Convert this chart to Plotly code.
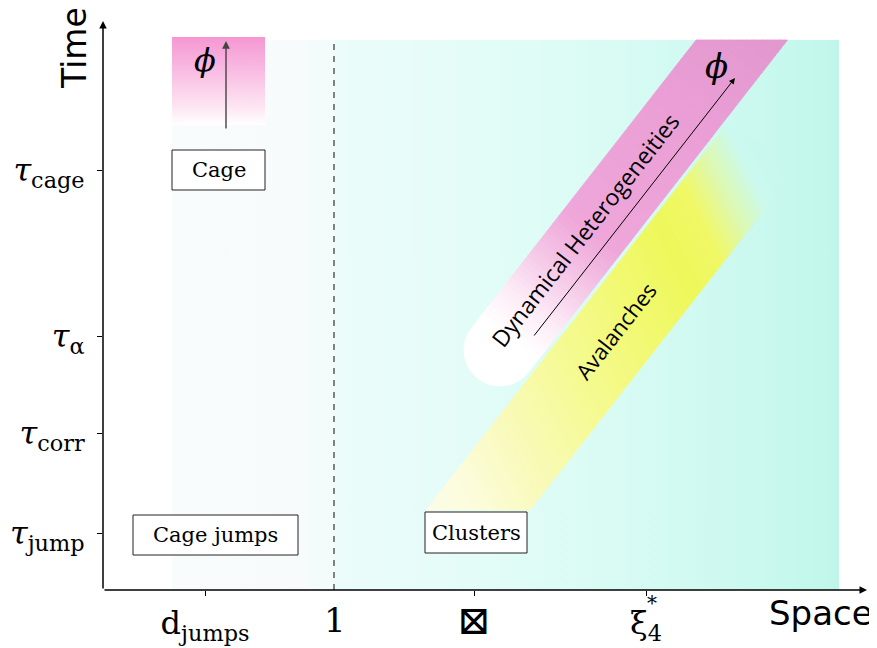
import numpy as np
import plotly.graph_objects as go

# ---------------- data (axis units: 1 unit = 1 px, origin at axes corner) ----------------
space_tick_vals = [102, 371, 543]
space_tick_text = ["d<sub>jumps</sub>", "<span style='font-size:40px'>⊠</span>", "ξ<sub>4</sub>"]
unit_length_x = 231
unit_label = "1"

time_tick_vals = [57, 157, 254, 420]
time_tick_text = ["<i>τ</i><sub>jump</sub>", "<i>τ</i><sub>corr</sub>",
                  "<i>τ</i><sub>α</sub>", "<i>τ</i><sub>cage</sub>"]

box_labels = ["Cage", "Cage jumps", "Clusters"]
box_x0 = [69, 30, 322]
box_x1 = [162, 195, 424]
box_y0 = [400, 35, 37]
box_y1 = [440, 75, 78]

region_x = [69, 736]
region_y = [0, 550]
cage_phi_x = [69, 162]
cage_phi_y = [465, 553]

band_direction = [0.78, 1.0]
dh_center = [397, 240]
dh_halfwidth = 36
dh_length = 450
aval_center = [375, 80]
aval_halfwidth = 41
aval_length = 460

# background colour stops (axis x, colour)
bg_stop_x = [69, 202, 207, 230, 232, 317, 417, 517, 617, 697, 736]
bg_stop_c = ["#f9fcfd", "#f8fbfc", "#f4fbfb", "#f4fbfb", "#ebfcfa", "#e7fcf9",
             "#e0fcf6", "#d8fbf4", "#cef9f0", "#c5f8ed", "#c0f6ea"]
# pink band colour stops (distance along band from cap centre)
dh_stop_t = [-60, 15, 50, 95, 150, 300, 440]
dh_stop_c = ["#ffffff", "#ffffff", "#fdeef8", "#f6cbe9", "#efa6d9", "#ea9ed5", "#e096cc"]
# avalanche colour stops
aval_stop_t = [-80, 0, 60, 140, 220, 290, 330, 360, 395, 500]
aval_stop_c = ["#fdfdf0", "#fcfcdc", "#f9fabc", "#f6fa96", "#f2f974", "#eef85a",
               "#f0f866", "#f0f866", "#f0f866", "#f0f866"]
aval_stop_a = [1, 1, 1, 1, 1, 1, 1, 0.5, 0.0, 0.0]
aval_grad_dir = [1.0, 0.5]

X_SPAN = 762
Y_SPAN = 568


# ---------------- helpers ----------------
def hex2rgb(h):
    h = h.lstrip("#")
    return np.array([int(h[i:i + 2], 16) for i in (0, 2, 4)], dtype=float)


def interp_color(v, xs, cs):
    rgb = np.array([hex2rgb(c) for c in cs])
    return np.array([np.interp(v, xs, rgb[:, k]) for k in range(3)])


def to_css(rgb):
    r, g, b = [int(round(c)) for c in rgb]
    return f"rgb({r},{g},{b})"


def bg_color(x):
    return interp_color(x, bg_stop_x, bg_stop_c)


def clip(poly, a, b, c):
    """keep part with a*x + b*y <= c"""
    out = []
    n = len(poly)
    for i in range(n):
        p = poly[i]
        q = poly[(i + 1) % n]
        fp = a * p[0] + b * p[1] - c
        fq = a * q[0] + b * q[1] - c
        if fp <= 0:
            out.append(p)
        if (fp < 0 < fq) or (fq < 0 < fp):
            t = fp / (fp - fq)
            out.append((p[0] + t * (q[0] - p[0]), p[1] + t * (q[1] - p[1])))
    return out


u = np.array(band_direction, dtype=float)
u /= np.linalg.norm(u)
nrm = np.array([-u[1], u[0]])


def band_polygon(c, w, s0, s1, cap):
    c = np.array(c, dtype=float)
    pts = [c + s0 * u - w * nrm, c + s1 * u - w * nrm, c + s1 * u + w * nrm, c + s0 * u + w * nrm]
    if cap:
        for a in np.linspace(0, np.pi, 40)[1:-1]:
            pts.append(c + s0 * u + w * (nrm * np.cos(a) - u * np.sin(a)))
    return [tuple(p) for p in pts]


fig = go.Figure()

# background region with horizontal gradient
bx = [region_x[0], region_x[1], region_x[1], region_x[0], region_x[0]]
by = [region_y[0], region_y[0], region_y[1], region_y[1], region_y[0]]
span = region_x[1] - region_x[0]
bg_scale = [[(x - region_x[0]) / span, c] for x, c in zip(bg_stop_x, bg_stop_c)]
fig.add_trace(go.Scatter(x=bx, y=by, mode="lines", fill="toself", line=dict(width=0),
                         fillgradient=dict(type="horizontal", colorscale=bg_scale,
                                           start=region_x[0], stop=region_x[1]),
                         hoverinfo="skip"))


def draw_band(poly, origin, gdir, stop_t, stop_c, stop_a=None, nslices=90):
    g = np.array(gdir, dtype=float)
    g /= np.linalg.norm(g)
    o = np.array(origin, dtype=float)
    ts = [g @ (np.array(p) - o) for p in poly]
    tmin, tmax = min(ts), max(ts)
    edges = np.linspace(tmin, tmax, nslices + 1)
    base = g @ o
    for i in range(nslices):
        sub = clip(poly, g[0], g[1], base + edges[i + 1])
        sub = clip(sub, -g[0], -g[1], -(base + edges[i]))
        if len(sub) < 3:
            continue
        tm = 0.5 * (edges[i] + edges[i + 1])
        col = interp_color(tm, stop_t, stop_c)
        xs = [p[0] for p in sub]
        ys = [p[1] for p in sub]
        if stop_a is not None:
            a = np.interp(tm, stop_t, stop_a)
            col = a * col + (1 - a) * bg_color(np.mean(xs))
        css = to_css(col)
        fig.add_trace(go.Scatter(x=xs + [xs[0]], y=ys + [ys[0]], mode="lines", fill="toself",
                                 fillcolor=css, line=dict(color=css, width=0.8),
                                 hoverinfo="skip"))


# avalanches band (yellow)
aval_poly = band_polygon(aval_center, aval_halfwidth, -90, aval_length, False)
aval_poly = clip(aval_poly, 0, 1, region_y[1])
aval_poly = clip(aval_poly, 0, -1, -aval_center[1])
draw_band(aval_poly, aval_center, aval_grad_dir, aval_stop_t, aval_stop_c, aval_stop_a)

# dynamical heterogeneities band (pink, rounded end)
dh_poly = band_polygon(dh_center, dh_halfwidth, 0, dh_length, True)
dh_poly = clip(dh_poly, 0, 1, region_y[1])
draw_band(dh_poly, dh_center, band_direction, dh_stop_t, dh_stop_c)

# pink cage rectangle, vertical gradient
cx = [cage_phi_x[0], cage_phi_x[1], cage_phi_x[1], cage_phi_x[0], cage_phi_x[0]]
cy = [cage_phi_y[0], cage_phi_y[0], cage_phi_y[1], cage_phi_y[1], cage_phi_y[0]]
fig.add_trace(go.Scatter(x=cx, y=cy, mode="lines", fill="toself", line=dict(width=0),
                         fillgradient=dict(type="vertical",
                                           colorscale=[[0, "#ffffff"], [0.2, "#fde6f3"],
                                                       [0.6, "#f9bde3"], [1, "#f597d2"]],
                                           start=cage_phi_y[0], stop=cage_phi_y[1]),
                         hoverinfo="skip"))

shapes = []
annotations = []

# dashed line at 1
shapes.append(dict(type="line", x0=unit_length_x, x1=unit_length_x, y0=0, y1=region_y[1],
                   line=dict(color="#333333", width=1.2, dash="6px,6px"), layer="above"))

# label boxes
for lab, x0, x1, y0, y1 in zip(box_labels, box_x0, box_x1, box_y0, box_y1):
    shapes.append(dict(type="rect", x0=x0, x1=x1, y0=y0, y1=y1,
                       line=dict(color="#222222", width=1), fillcolor="white", layer="above"))
    annotations.append(dict(x=(x0 + x1) / 2, y=(y0 + y1) / 2, text=lab, showarrow=False,
                            xanchor="center", yanchor="middle",
                            font=dict(family="DejaVu Serif", size=21, color="black")))

# axes arrows
annotations.append(dict(x=764, y=0, ax=0, ay=0, axref="x", ayref="y", xref="x", yref="y",
                        text="", showarrow=True, arrowhead=2, arrowsize=1, arrowwidth=1.5,
                        arrowcolor="black", standoff=0))
annotations.append(dict(x=0, y=569, ax=0, ay=0, axref="x", ayref="y", xref="x", yref="y",
                        text="", showarrow=True, arrowhead=2, arrowsize=1, arrowwidth=1.5,
                        arrowcolor="black", standoff=0))

# phi arrows
annotations.append(dict(x=123, y=549, ax=123, ay=460, axref="x", ayref="y",
                        text="", showarrow=True, arrowhead=2, arrowsize=1.1, arrowwidth=1.4,
                        arrowcolor="#444444", standoff=0))
annotations.append(dict(x=632, y=512, ax=430, ay=253, axref="x", ayref="y",
                        text="", showarrow=True, arrowhead=2, arrowsize=1.2, arrowwidth=1,
                        arrowcolor="black", standoff=0))
annotations.append(dict(x=102, y=530, text="<i>ϕ</i>", showarrow=False,
                        xanchor="center", yanchor="middle",
                        font=dict(family="DejaVu Serif", size=32, color="black")))
annotations.append(dict(x=613, y=524, text="<i>ϕ</i>", showarrow=False,
                        xanchor="center", yanchor="middle",
                        font=dict(family="DejaVu Serif", size=34, color="black")))

# band labels
annotations.append(dict(x=482, y=360, text="Dynamical Heterogeneities", showarrow=False,
                        xanchor="center", yanchor="middle",
                        textangle=-52, font=dict(family="Open Sans", size=23, color="black")))
annotations.append(dict(x=512, y=259, text="Avalanches", showarrow=False,
                        xanchor="center", yanchor="middle",
                        textangle=-52, font=dict(family="Open Sans", size=22, color="black")))


def paper(xv, yv):
    return xv / X_SPAN, yv / Y_SPAN


# axis titles & extra labels (outside the axis range -> paper coordinates)
px_, py_ = paper(-29, 542)
annotations.append(dict(x=px_, y=py_, xref="paper", yref="paper", text="Time", showarrow=False,
                        xanchor="center", yanchor="middle", textangle=-90,
                        font=dict(family="DejaVu Sans", size=33, color="black")))
px_, py_ = paper(718, -23)
annotations.append(dict(x=px_, y=py_, xref="paper", yref="paper", text="Space", showarrow=False,
                        xanchor="center", yanchor="middle",
                        font=dict(family="DejaVu Sans", size=34, color="black")))
px_, py_ = paper(unit_length_x + 1, -30)
annotations.append(dict(x=px_, y=py_, xref="paper", yref="paper", text=unit_label,
                        showarrow=False, xanchor="center", yanchor="middle",
                        font=dict(family="DejaVu Serif", size=34, color="black")))
px_, py_ = paper(space_tick_vals[2] + 6, -13)
annotations.append(dict(x=px_, y=py_, xref="paper", yref="paper", text="*", showarrow=False,
                        xanchor="center", yanchor="middle",
                        font=dict(family="DejaVu Serif", size=20, color="black")))

# the page body adds an 8px offset; size the figure so the axes land where they should
fig.update_layout(width=869, height=640, margin=dict(l=95, r=12, t=14, b=58, autoexpand=False),
                  plot_bgcolor="white", paper_bgcolor="white", showlegend=False,
                  shapes=shapes, annotations=annotations)
fig.update_xaxes(range=[0, X_SPAN], tickvals=space_tick_vals, ticktext=space_tick_text,
                 ticks="outside", ticklen=5, tickcolor="black", showgrid=False, zeroline=False,
                 showline=False, automargin=False,
                 tickfont=dict(family="DejaVu Serif", size=32, color="black"),
                 fixedrange=True)
fig.update_yaxes(range=[0, Y_SPAN], tickvals=time_tick_vals, ticktext=time_tick_text,
                 ticks="outside", ticklen=5, tickcolor="black", showgrid=False, zeroline=False,
                 showline=False, automargin=False, ticklabelstandoff=6,
                 tickfont=dict(family="DejaVu Serif", size=32, color="black"), fixedrange=True)

fig.write_html("out.html")
